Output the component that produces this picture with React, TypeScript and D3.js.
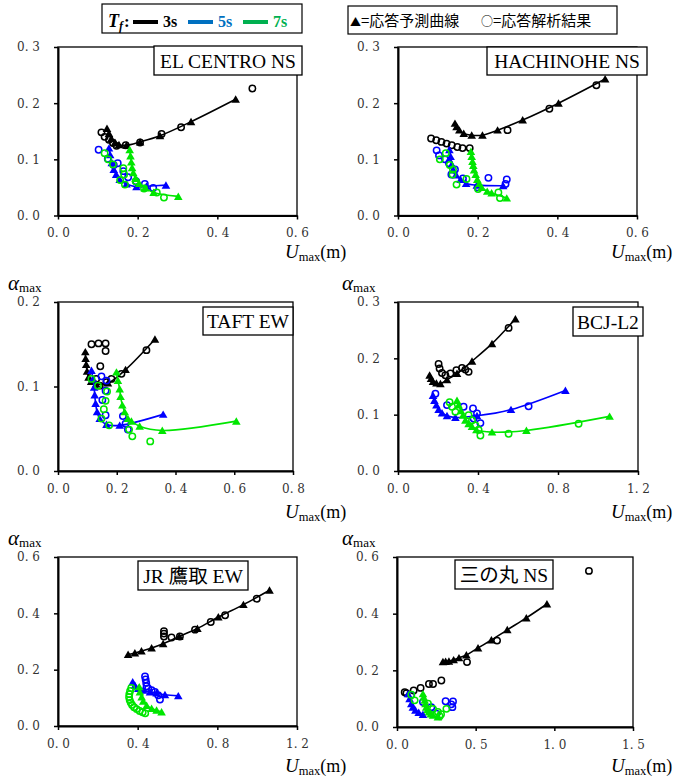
import * as d3 from "d3";
import React, { useRef, useEffect } from "react";

type Pt = [number, number];

// ---- data: [U_max (m), alpha_max] ----
// EL CENTRO NS
const elcTri3: Pt[] = [[0.123,0.155],[0.128,0.146],[0.134,0.137],[0.143,0.130],[0.153,0.126],[0.172,0.125],[0.206,0.131],[0.256,0.142],[0.334,0.167],[0.446,0.207]];
const elcCirc3: Pt[] = [[0.109,0.148],[0.117,0.140],[0.128,0.135],[0.138,0.129],[0.147,0.124],[0.170,0.125],[0.206,0.130],[0.260,0.145],[0.309,0.157],[0.488,0.226]];
const elcTri5: Pt[] = [[0.128,0.120],[0.131,0.108],[0.135,0.094],[0.140,0.082],[0.146,0.073],[0.155,0.064],[0.172,0.056],[0.197,0.051],[0.222,0.052],[0.271,0.054]];
const elcCirc5: Pt[] = [[0.102,0.117],[0.125,0.101],[0.140,0.090],[0.150,0.093],[0.164,0.079],[0.176,0.068],[0.196,0.061],[0.218,0.056],[0.239,0.049]];
const elcTri7: Pt[] = [[0.180,0.117],[0.182,0.106],[0.184,0.095],[0.186,0.085],[0.189,0.076],[0.195,0.066],[0.204,0.057],[0.218,0.049],[0.240,0.041],[0.302,0.034]];
const elcCirc7: Pt[] = [[0.117,0.111],[0.126,0.100],[0.138,0.091],[0.156,0.063],[0.164,0.084],[0.166,0.073],[0.168,0.055],[0.195,0.061],[0.216,0.048],[0.248,0.041],[0.266,0.032]];

// HACHINOHE NS
const hacTri3: Pt[] = [[0.143,0.164],[0.147,0.158],[0.154,0.152],[0.165,0.146],[0.185,0.143],[0.212,0.143],[0.250,0.152],[0.313,0.170],[0.403,0.200],[0.520,0.243]];
const hacCirc3: Pt[] = [[0.083,0.137],[0.096,0.134],[0.109,0.131],[0.122,0.128],[0.135,0.125],[0.149,0.122],[0.162,0.120],[0.180,0.120],[0.275,0.152],[0.380,0.190],[0.498,0.232]];
const hacTri5: Pt[] = [[0.129,0.117],[0.132,0.105],[0.135,0.091],[0.139,0.081],[0.146,0.072],[0.157,0.064],[0.171,0.057],[0.198,0.054],[0.264,0.053]];
const hacCirc5: Pt[] = [[0.097,0.116],[0.103,0.107],[0.118,0.100],[0.128,0.093],[0.134,0.073],[0.143,0.082],[0.163,0.066],[0.200,0.050],[0.227,0.067],[0.270,0.056],[0.273,0.064]];
const hacTri7: Pt[] = [[0.183,0.114],[0.185,0.105],[0.187,0.096],[0.189,0.089],[0.191,0.081],[0.195,0.073],[0.199,0.064],[0.204,0.057],[0.210,0.050],[0.224,0.043],[0.235,0.040],[0.273,0.031]];
const hacCirc7: Pt[] = [[0.105,0.100],[0.120,0.111],[0.130,0.090],[0.137,0.073],[0.138,0.082],[0.147,0.055],[0.172,0.065],[0.201,0.047],[0.252,0.041],[0.256,0.031]];

// TAFT EW
const taftTri3: Pt[] = [[0.093,0.141],[0.094,0.133],[0.096,0.126],[0.099,0.118],[0.104,0.111],[0.113,0.106],[0.130,0.103],[0.170,0.104],[0.230,0.120],[0.330,0.156]];
const taftCirc3: Pt[] = [[0.114,0.150],[0.138,0.151],[0.162,0.151],[0.162,0.142],[0.144,0.124],[0.130,0.109],[0.142,0.101],[0.165,0.105],[0.182,0.109],[0.216,0.115],[0.301,0.143]];
const taftTri5: Pt[] = [[0.114,0.119],[0.119,0.109],[0.123,0.099],[0.125,0.090],[0.128,0.080],[0.133,0.070],[0.142,0.062],[0.165,0.055],[0.210,0.054],[0.358,0.067]];
const taftCirc5: Pt[] = [[0.148,0.112],[0.165,0.107],[0.162,0.095],[0.151,0.084],[0.162,0.066],[0.221,0.065],[0.230,0.056],[0.238,0.049]];
const taftTri7: Pt[] = [[0.199,0.117],[0.204,0.107],[0.210,0.097],[0.213,0.088],[0.219,0.078],[0.227,0.070],[0.238,0.062],[0.250,0.059],[0.278,0.053],[0.355,0.048],[0.607,0.059]];
const taftCirc7: Pt[] = [[0.114,0.109],[0.136,0.101],[0.167,0.094],[0.162,0.083],[0.156,0.073],[0.148,0.062],[0.174,0.054],[0.242,0.049],[0.253,0.041],[0.314,0.035]];

// BCJ-L2
const bcjTri3: Pt[] = [[0.158,0.170],[0.165,0.164],[0.175,0.159],[0.192,0.156],[0.212,0.155],[0.245,0.162],[0.295,0.173],[0.370,0.195],[0.470,0.226],[0.587,0.270]];
const bcjCirc3: Pt[] = [[0.203,0.190],[0.208,0.182],[0.220,0.174],[0.237,0.170],[0.262,0.173],[0.292,0.179],[0.320,0.183],[0.337,0.180],[0.353,0.176],[0.553,0.254]];
const bcjTri5: Pt[] = [[0.175,0.134],[0.182,0.125],[0.192,0.117],[0.203,0.109],[0.220,0.103],[0.245,0.098],[0.287,0.095],[0.395,0.098],[0.565,0.109],[0.837,0.143]];
const bcjCirc5: Pt[] = [[0.187,0.137],[0.245,0.117],[0.328,0.114],[0.375,0.111],[0.395,0.102],[0.378,0.093],[0.412,0.085],[0.653,0.115]];
const bcjTri7: Pt[] = [[0.295,0.125],[0.303,0.117],[0.315,0.107],[0.325,0.099],[0.337,0.090],[0.353,0.084],[0.370,0.079],[0.392,0.073],[0.470,0.069],[0.642,0.072],[1.058,0.097]];
const bcjCirc7: Pt[] = [[0.258,0.122],[0.270,0.114],[0.287,0.105],[0.353,0.099],[0.370,0.090],[0.387,0.081],[0.403,0.073],[0.412,0.063],[0.553,0.066],[0.903,0.084]];

// JR 鷹取 EW
const jrTri3: Pt[] = [[0.352,0.254],[0.386,0.259],[0.419,0.266],[0.470,0.277],[0.528,0.292],[0.609,0.318],[0.700,0.346],[0.805,0.387],[0.931,0.431],[1.062,0.482]];
const jrCirc3: Pt[] = [[0.532,0.337],[0.532,0.328],[0.532,0.318],[0.570,0.314],[0.612,0.318],[0.688,0.342],[0.767,0.369],[0.839,0.393],[0.998,0.452]];
const jrTri5: Pt[] = [[0.375,0.156],[0.386,0.144],[0.403,0.133],[0.428,0.127],[0.462,0.121],[0.495,0.117],[0.537,0.111],[0.604,0.107]];
const jrCirc5: Pt[] = [[0.437,0.176],[0.440,0.165],[0.443,0.153],[0.445,0.141],[0.453,0.133],[0.470,0.127],[0.487,0.121],[0.503,0.109],[0.512,0.094]];
const jrTri7: Pt[] = [[0.408,0.139],[0.411,0.121],[0.420,0.103],[0.428,0.088],[0.445,0.073],[0.470,0.062],[0.495,0.056],[0.520,0.050]];
const jrCirc7: Pt[] = [[0.368,0.135],[0.362,0.124],[0.358,0.113],[0.357,0.102],[0.360,0.092],[0.365,0.083],[0.372,0.075],[0.382,0.067],[0.395,0.060],[0.410,0.053],[0.425,0.049],[0.438,0.045]];

// 三の丸 NS
const sanTri3: Pt[] = [[0.292,0.230],[0.309,0.231],[0.330,0.232],[0.360,0.237],[0.394,0.244],[0.441,0.254],[0.515,0.279],[0.600,0.307],[0.701,0.343],[0.822,0.385],[0.953,0.434]];
const sanCirc3: Pt[] = [[0.049,0.123],[0.060,0.119],[0.106,0.129],[0.150,0.138],[0.203,0.152],[0.229,0.152],[0.282,0.164],[0.445,0.229],[0.636,0.305],[1.220,0.551]];
const sanTri5: Pt[] = [[0.070,0.117],[0.080,0.100],[0.091,0.082],[0.101,0.070],[0.117,0.059],[0.138,0.051],[0.165,0.044]];
const sanCirc5: Pt[] = [[0.090,0.113],[0.165,0.088],[0.218,0.070],[0.250,0.047],[0.309,0.091],[0.352,0.070],[0.356,0.090],[0.345,0.080]];
const sanTri7: Pt[] = [[0.165,0.117],[0.170,0.105],[0.176,0.094],[0.181,0.082],[0.186,0.070],[0.194,0.061],[0.203,0.053],[0.215,0.046],[0.229,0.041],[0.260,0.035]];
const sanCirc7: Pt[] = [[0.091,0.114],[0.112,0.094],[0.197,0.082],[0.229,0.064],[0.260,0.053],[0.271,0.038],[0.314,0.064],[0.280,0.045]];

const titles = ["EL CENTRO NS", "HACHINOHE NS", "TAFT EW", "BCJ-L2", "JR 鷹取 EW", "三の丸 NS"];
const periodLabels = ["3s", "5s", "7s"];

const markColors = ["#000000", "#0000ff", "#00e600"];
const legendColors = ["#000000", "#0070c0", "#00b050"];

// layout of each panel (pixels) + axis ranges
const panels = [
  { left: 58, right: 297, top: 47, bottom: 215.5, xMax: 0.6, xTicks: [0, 0.2, 0.4, 0.6], yMax: 0.3, yTicks: [0, 0.1, 0.2, 0.3],
    box: [154, 46, 302, 75], alphaX: null, uX: 285, uY: 258,
    series: [[elcTri3, elcCirc3], [elcTri5, elcCirc5], [elcTri7, elcCirc7]] },
  { left: 398, right: 637, top: 47, bottom: 215.5, xMax: 0.6, xTicks: [0, 0.2, 0.4, 0.6], yMax: 0.3, yTicks: [0, 0.1, 0.2, 0.3],
    box: [487, 47, 647, 75], alphaX: null, uX: 611, uY: 258,
    series: [[hacTri3, hacCirc3], [hacTri5, hacCirc5], [hacTri7, hacCirc7]] },
  { left: 58, right: 293, top: 302, bottom: 471, xMax: 0.8, xTicks: [0, 0.2, 0.4, 0.6, 0.8], yMax: 0.2, yTicks: [0, 0.1, 0.2],
    box: [203, 307, 293, 335], alphaX: 8, uX: 285, uY: 518,
    series: [[taftTri3, taftCirc3], [taftTri5, taftCirc5], [taftTri7, taftCirc7]] },
  { left: 398, right: 638, top: 302, bottom: 471, xMax: 1.2, xTicks: [0, 0.4, 0.8, 1.2], yMax: 0.3, yTicks: [0, 0.1, 0.2, 0.3],
    box: [573, 307, 643, 336], alphaX: 342, uX: 611, uY: 518,
    series: [[bcjTri3, bcjCirc3], [bcjTri5, bcjCirc5], [bcjTri7, bcjCirc7]] },
  { left: 58, right: 297, top: 557, bottom: 726, xMax: 1.2, xTicks: [0, 0.4, 0.8, 1.2], yMax: 0.6, yTicks: [0, 0.2, 0.4, 0.6],
    box: [138, 561, 248, 590], alphaX: 8, uX: 285, uY: 772,
    series: [[jrTri3, jrCirc3], [jrTri5, jrCirc5], [jrTri7, jrCirc7]] },
  { left: 397, right: 633, top: 557, bottom: 727, xMax: 1.5, xTicks: [0, 0.5, 1.0, 1.5], yMax: 0.6, yTicks: [0, 0.2, 0.4, 0.6],
    box: [455, 560, 553, 589], alphaX: 342, uX: 611, uY: 772,
    series: [[sanTri3, sanCirc3], [sanTri5, sanCirc5], [sanTri7, sanCirc7]] },
];

const serif = "Liberation Serif, Times New Roman, Noto Sans CJK JP, serif";
const tickFont = "DejaVu Serif, serif";
const fmt = (d: number) => d3.format(".1f")(d).replace(".", ". ");
const tri = d3.symbol(d3.symbolTriangle, 32)();

const Panel = ({ p, title }: any) => {
  const gx = useRef<SVGGElement>(null);
  const gy = useRef<SVGGElement>(null);
  const x = d3.scaleLinear([0, p.xMax], [p.left, p.right]);
  const y = d3.scaleLinear([0, p.yMax], [p.bottom, p.top]);

  useEffect(() => {
    const ax = d3.select(gx.current!).call(
      d3.axisBottom(x).tickValues(p.xTicks).tickFormat(fmt as any).tickSizeInner(4).tickSizeOuter(0).tickPadding(9)
    );
    const ay = d3.select(gy.current!).call(
      d3.axisLeft(y).tickValues(p.yTicks).tickFormat(fmt as any).tickSizeInner(4).tickSizeOuter(0).tickPadding(14)
    );
    [ax, ay].forEach((g) => {
      g.attr("font-family", tickFont).attr("font-size", 12);
      g.select(".domain").attr("stroke-width", 2);
      g.selectAll(".tick line").attr("stroke-width", 1.5);
      g.selectAll(".tick text").attr("fill", "#333");
    });
  }, []);

  const line = d3.line<Pt>().x((d) => x(d[0])).y((d) => y(d[1])).curve(d3.curveCatmullRom.alpha(0.5));
  const [bx1, by1, bx2, by2] = p.box;

  return (
    <g>
      <rect x={p.left} y={p.top} width={p.right - p.left} height={p.bottom - p.top} fill="white" stroke="black" strokeWidth={1.3} />
      <g ref={gx} transform={`translate(0,${p.bottom})`} />
      <g ref={gy} transform={`translate(${p.left},0)`} />
      {p.series.map(([tris, circs]: Pt[][], i: number) => (
        <g key={i}>
          <path d={line(tris) || ""} fill="none" stroke={markColors[i]} strokeWidth={1.6} />
          {tris.map((d, j) => (
            <path key={"t" + j} d={tri || ""} transform={`translate(${x(d[0])},${y(d[1]) + 1})`} fill={markColors[i]} />
          ))}
          {circs.map((d, j) => (
            <circle key={"c" + j} cx={x(d[0])} cy={y(d[1])} r={3.2} fill="none" stroke={markColors[i]} strokeWidth={1.5} />
          ))}
        </g>
      ))}
      <rect x={bx1} y={by1} width={bx2 - bx1} height={by2 - by1} fill="white" stroke="black" strokeWidth={1.3} />
      <text x={(bx1 + bx2) / 2} y={by2 - 7.5} textAnchor="middle" fontFamily={serif} fontSize={19.5}>{title}</text>
      {p.alphaX !== null && (
        <text x={p.alphaX} y={p.top - 12} fontFamily={serif}>
          <tspan fontStyle="italic" fontSize={21}>α</tspan>
          <tspan fontSize={13} dy={2}>max</tspan>
        </text>
      )}
      <text x={p.uX} y={p.uY} fontFamily={serif}>
        <tspan fontStyle="italic" fontSize={19}>U</tspan>
        <tspan fontSize={12.5} dy={3}>max</tspan>
        <tspan fontSize={18} dy={-3}>(m)</tspan>
      </text>
    </g>
  );
};

const App = () => {
  const legX = [133, 188, 243];
  return (
    <svg width={678} height={778} style={{ position: "absolute", left: 0, top: 0, background: "white" }}>
      <rect width={678} height={778} fill="white" />
      {/* period legend */}
      <rect x={102} y={4} width={200} height={29} fill="white" stroke="black" strokeWidth={1.2} />
      <text x={108} y={27} fontFamily={serif} fontWeight="bold" fontStyle="italic">
        <tspan fontSize={18}>T</tspan>
        <tspan fontSize={12} dy={3}>f</tspan>
        <tspan fontSize={17} dy={-3} dx={1} fontStyle="normal">:</tspan>
      </text>
      {periodLabels.map((lab, i) => (
        <g key={lab}>
          <line x1={legX[i]} x2={legX[i] + 25} y1={22} y2={22} stroke={legendColors[i]} strokeWidth={4} />
          <text x={legX[i] + 30} y={27} fontFamily={serif} fontWeight="bold" fontSize={16} fill={legendColors[i]}>{lab}</text>
        </g>
      ))}
      {/* marker legend */}
      <rect x={348} y={6} width={269} height={28} fill="white" stroke="black" strokeWidth={1.2} />
      <text x={350} y={26} fontFamily="Noto Sans CJK JP, sans-serif" fontSize={15}>
        <tspan fontSize={11}>▲</tspan>=応答予測曲線
      </text>
      <text x={481} y={26} fontFamily="Noto Sans CJK JP, sans-serif" fontSize={15}>
        <tspan fontSize={12}>○</tspan>=応答解析結果
      </text>
      {panels.map((p, i) => (
        <Panel key={i} p={p} title={titles[i]} />
      ))}
    </svg>
  );
};

export default App;
